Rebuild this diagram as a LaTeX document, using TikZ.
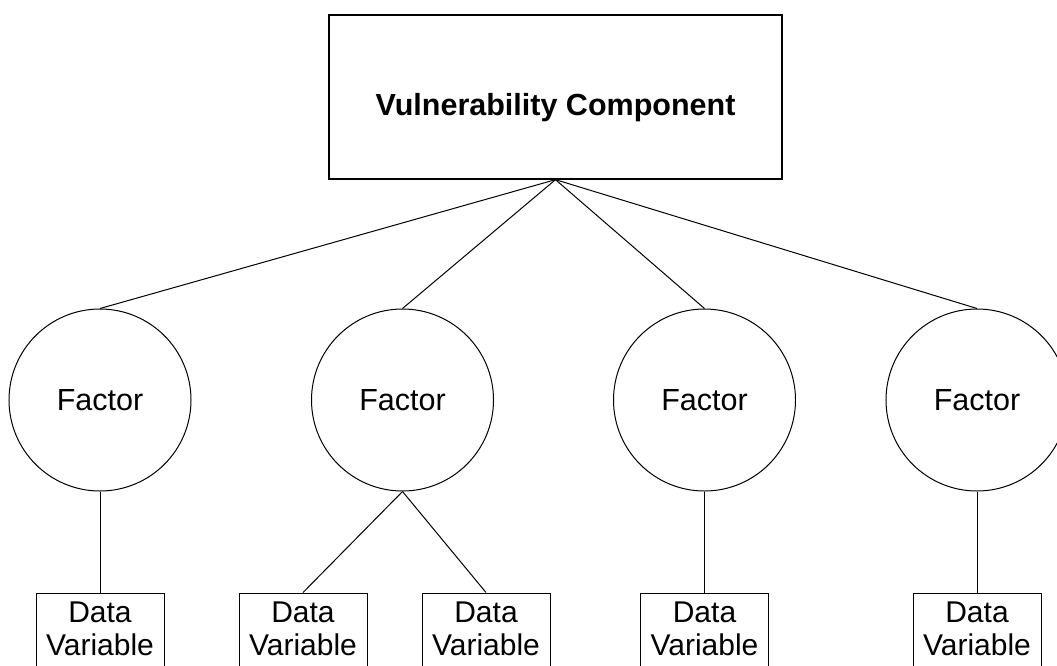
\documentclass[tikz,border=0pt]{standalone}
\usepackage{fontspec}
\setmainfont{Liberation Sans}
\usetikzlibrary{positioning}
\tikzstyle{component} = [rectangle, draw=black, line width=1.3pt, minimum width=453pt, minimum height=164pt, inner sep=0pt, text height=36pt, text depth=0pt, font=\fontsize{30.5}{33}\selectfont\bfseries]
\tikzstyle{factor} = [circle, draw=black, line width=1pt, minimum size=182pt, inner sep=0pt, font=\fontsize{30.5}{33}\selectfont]
\tikzstyle{datavar} = [rectangle, draw=black, line width=1pt, minimum width=128pt, minimum height=80pt, inner sep=0pt, text depth=8pt, align=center, anchor=north, font=\fontsize{30}{33}\selectfont]
\tikzstyle{link} = [line width=1pt, draw=black]

\begin{document}
\begin{tikzpicture}[x=1pt, y=-1pt, node distance=101pt]
\useasboundingbox (0,0) rectangle (1057,665);
\clip (0,0) rectangle (1057,665);

% Nodes
\node (comp) [component] at (555.5,97) {Vulnerability Component};

\node (f1) [factor] at (100,400) {Factor};
\node (f2) [factor] at (402.5,400) {Factor};
\node (f3) [factor] at (704.5,400) {Factor};
\node (f4) [factor] at (977,400) {Factor};

\node (d1) [datavar, below=of f1] {Data\\Variable};
\node (d2a) [datavar, below=of f2, xshift=-99.5pt] {Data\\Variable};
\node (d2b) [datavar, below=of f2, xshift=83.5pt] {Data\\Variable};
\node (d3) [datavar, below=of f3] {Data\\Variable};
\node (d4) [datavar, below=of f4] {Data\\Variable};

% Links
\foreach \f in {f1,f2,f3,f4}
  \draw [link] (comp.south) -- (\f.north);
\draw [link] (f1.south) -- (d1.north);
\draw [link] (f2.south) -- (d2a.north);
\draw [link] (f2.south) -- (d2b.north);
\draw [link] (f3.south) -- (d3.north);
\draw [link] (f4.south) -- (d4.north);

\end{tikzpicture}
\end{document}
